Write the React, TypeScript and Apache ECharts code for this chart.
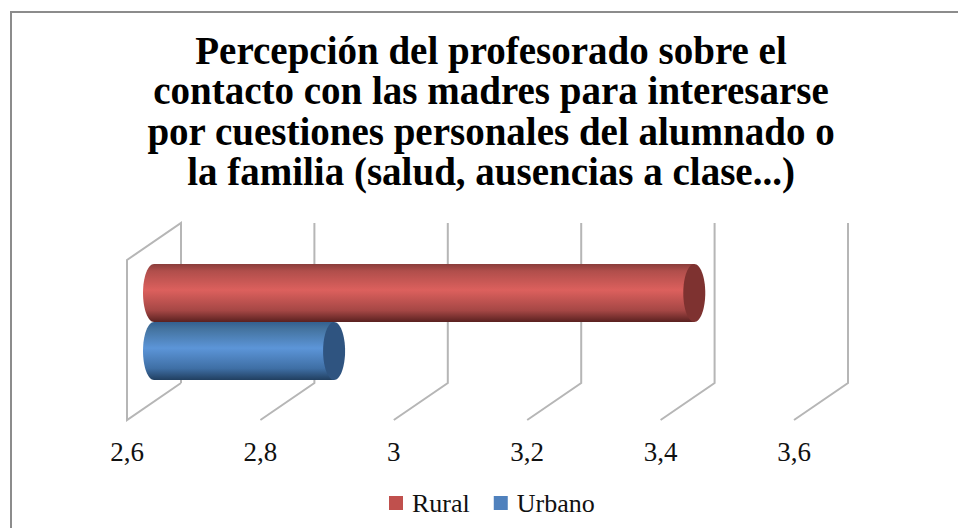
import React, { useEffect, useRef } from "react";
import * as echarts from "echarts";

const titleLines = [
  "Percepción del profesorado sobre el",
  "contacto con las madres para interesarse",
  "por cuestiones personales del alumnado o",
  "la familia (salud, ausencias a clase...)",
];
const categories = [""];
const ticks = [2.6, 2.8, 3.0, 3.2, 3.4, 3.6];
const seriesNames = ["Rural", "Urbano"];
const ruralValues = [3.41];
const urbanoValues = [2.87];
const legendColors = ["#c0504d", "#4f81bd"];
const FONT = "'Liberation Serif', serif";

const grad = (stops: string[]) => ({
  type: "linear", x: 0, y: 0, x2: 0, y2: 1,
  colorStops: stops.map((color, i) => ({ offset: [0, 0.12, 0.45, 0.8, 1][i], color })),
});
const bodies = [
  ["#8a3d3b", "#b04e4b", "#dc605d", "#a54745", "#5a2120"],
  ["#34608f", "#44739f", "#5c95d8", "#3f6fa5", "#213f60"],
];
const caps = ["#7e3230", "#2f5480"];

const DX = 54, DY = -37;

function cylinder(index: number) {
  return (_: any, api: any) => {
    const end = api.coord([api.value(0), 0]);
    const start = api.coord([ticks[0], 0]);
    const band = api.size([0, 1])[1];
    const h = band * 0.3625;
    const rx = 11;
    const cy = start[1] + DY / 2 + (index === 0 ? -h / 2 : h / 2) + 0.5;
    const x0 = start[0] + DX / 2;
    const x1 = end[0] + DX / 2;
    const fill = grad(bodies[index]);
    return {
      type: "group",
      children: [
        { type: "ellipse", shape: { cx: x0, cy, rx, ry: h / 2 }, style: { fill } },
        { type: "rect", shape: { x: x0, y: cy - h / 2, width: x1 - x0, height: h }, style: { fill } },
        { type: "ellipse", shape: { cx: x1, cy, rx, ry: h / 2 }, style: { fill: caps[index] } },
      ],
    };
  };
}

function wall(_: any, api: any) {
  const v = api.value(0);
  const top = api.coord([v, 0]);
  const band = api.size([0, 1])[1];
  const x = top[0];
  const yBot = top[1] + band / 2;
  const yTop = top[1] - band / 2;
  const lineStyle = { stroke: "#b6b6b6", lineWidth: 2, fill: "none" };
  const points: number[][] =
    v === ticks[0]
      ? [[x + DX, yBot + DY], [x, yBot], [x, yTop], [x + DX, yTop + DY], [x + DX, yBot + DY]]
      : [[x, yBot], [x + DX, yBot + DY], [x + DX, yTop + DY]];
  return { type: "polyline", shape: { points }, style: lineStyle };
}

export default function App() {
  const ref = useRef<HTMLDivElement>(null);
  useEffect(() => {
    document.body.style.margin = "0";
    const chart = echarts.init(ref.current!, null, { renderer: "svg" });
    chart.setOption({
      animation: false,
      backgroundColor: "#ffffff",
      graphic: [
        { type: "rect", shape: { x: 11, y: 12, width: 960, height: 530 }, style: { fill: "none", stroke: "#8c8c8c", lineWidth: 2 }, silent: true },
      ],
      title: {
        text: titleLines.join("\n"),
        left: 486, top: 25, textAlign: "center",
        textStyle: { fontFamily: FONT, fontWeight: "bold", fontSize: 39, lineHeight: 40.5, color: "#000" },
      },
      legend: {
        left: 389, top: 490, padding: 0, itemWidth: 14, itemHeight: 14, itemGap: 24, icon: "rect",
        data: seriesNames,
        textStyle: { fontFamily: FONT, fontSize: 26, color: "#111", padding: [0, 0, 0, 4] },
      },
      grid: { left: 127, right: 164, top: 260, height: 160 },
      xAxis: {
        type: "value", min: 2.6, max: 3.6, interval: 0.2,
        axisLine: { show: false }, axisTick: { show: false }, splitLine: { show: false },
        axisLabel: {
          margin: 18, fontFamily: FONT, fontSize: 27, color: "#111",
          formatter: (v: number) => String(Math.round(v * 10) / 10).replace(".", ","),
        },
      },
      yAxis: { type: "category", data: categories, show: false },
      series: [
        { type: "custom", name: "walls", silent: true, z: 1, clip: false, data: ticks.map((t) => [t, 0]), renderItem: wall, encode: { x: 0, y: 1 } },
        { type: "custom", name: seriesNames[1], z: 2, clip: false, itemStyle: { color: legendColors[1] }, data: urbanoValues.map((v) => [v, 0]), renderItem: cylinder(1), encode: { x: 0, y: 1 } },
        { type: "custom", name: seriesNames[0], z: 3, clip: false, itemStyle: { color: legendColors[0] }, data: ruralValues.map((v) => [v, 0]), renderItem: cylinder(0), encode: { x: 0, y: 1 } },
      ],
    });
    return () => chart.dispose();
  }, []);
  return <div ref={ref} style={{ width: 958, height: 528 }} />;
}
